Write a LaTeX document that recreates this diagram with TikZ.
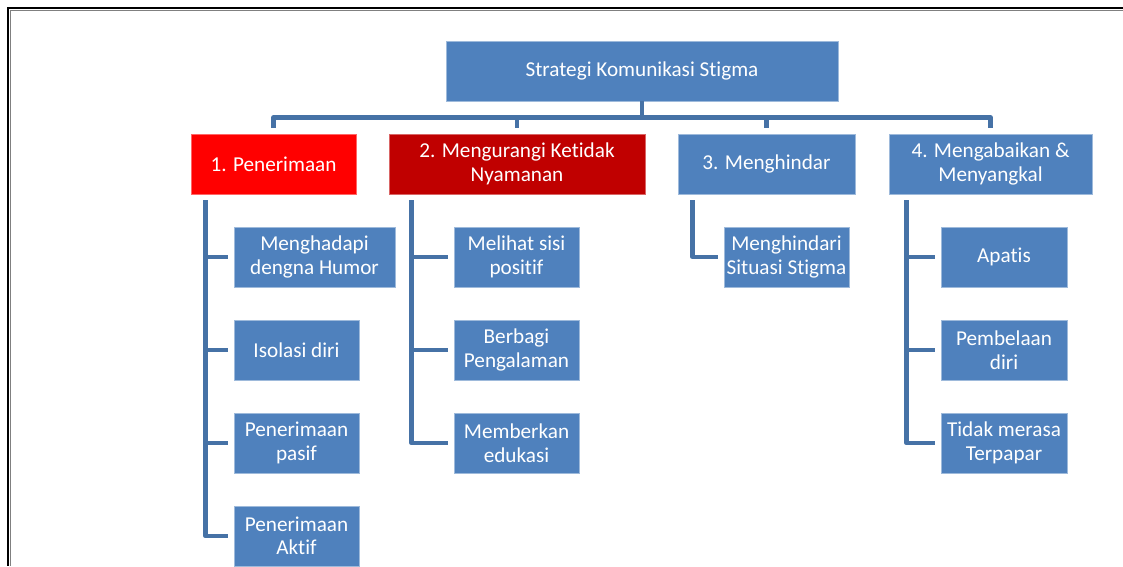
\documentclass[tikz,border=0pt]{standalone}
\usepackage{fontspec}
\setmainfont{Carlito}[Ligatures=NoCommon]
\definecolor{boxblue}{RGB}{79,129,189}
\definecolor{linkblue}{RGB}{70,114,166}
\definecolor{catred}{RGB}{255,0,0}
\definecolor{catdarkred}{RGB}{192,0,0}
\tikzset{
  box/.style={rectangle, fill=boxblue, draw=boxblue!55!white, line width=0.6pt,
    text=white, align=center, inner sep=0pt, minimum height=60pt,
    font=\fontsize{21.2}{23.5}\selectfont},
  link/.style={draw=linkblue, line width=4.5pt, line join=round}
}
\begin{document}
\begin{tikzpicture}[x=1pt,y=-1pt]
                \useasboundingbox (0,0) rectangle (1123,566);
                % frame
                \draw[line width=2pt] (1123,8) -- (8,8) -- (8,566);
                \draw[gray,line width=0.8pt] (1123,10) -- (10,10) -- (10,566);

                \node[box, minimum width=392pt] at (642,71) (root) {Strategi Komunikasi Stigma};

                \node[box, minimum width=165pt, fill=catred, draw=catred!60!white] at (273.5,164) (pen) {1. Penerimaan};
                \node[box, minimum width=256pt, fill=catdarkred, draw=catdarkred!60!white] at (517,164) (kur) {2. Mengurangi Ketidak\\Nyamanan};
                \node[box, minimum width=177pt] at (766.5,164) (hin) {3. Menghindar};
                \node[box, minimum width=203pt] at (990.5,164) (aba) {4. Mengabaikan \&\\Menyangkal};

                \node[box, minimum width=161pt] at (314.5,257) (humor) {Menghadapi\\dengna Humor};
                \node[box, minimum width=125pt] at (296.5,350) (isolasi) {Isolasi diri};
                \node[box, minimum width=125pt] at (296.5,443) (pasif) {Penerimaan\\pasif};
                \node[box, minimum width=125pt] at (296.5,536) (aktif) {Penerimaan\\Aktif};

                \node[box, minimum width=125pt] at (516.5,257) (positif) {Melihat sisi\\positif};
                \node[box, minimum width=125pt] at (516.5,350) (berbagi) {Berbagi\\Pengalaman};
                \node[box, minimum width=125pt] at (516.5,443) (edukasi) {Memberkan\\edukasi};

                \node[box, minimum width=125pt] at (786.5,257) (situasi) {Menghindari\\Situasi Stigma};

                \node[box, minimum width=126pt] at (1004,257) (apatis) {Apatis};
                \node[box, minimum width=126pt] at (1004,350) (bela) {Pembelaan\\diri};
                \node[box, minimum width=126pt] at (1004,443) (terpapar) {Tidak merasa\\Terpapar};

                \foreach \c in {pen,kur,hin,aba}
                    \draw[link, shorten >=6pt] (root.south) -- ++(0,16) -| (\c.north);

                \foreach \c in {humor,isolasi,pasif,aktif}
                    \draw[link, shorten >=6pt] ([xshift=15pt,yshift=-6pt]pen.south west) |- (\c.west);
                \foreach \c in {positif,berbagi,edukasi}
                    \draw[link, shorten >=6pt] ([xshift=23pt,yshift=-6pt]kur.south west) |- (\c.west);
                \draw[link, shorten >=6pt] ([xshift=15pt,yshift=-6pt]hin.south west) |- (situasi.west);
                \foreach \c in {apatis,bela,terpapar}
                    \draw[link, shorten >=6pt] ([xshift=18pt,yshift=-6pt]aba.south west) |- (\c.west);

            \end{tikzpicture}
\end{document}
